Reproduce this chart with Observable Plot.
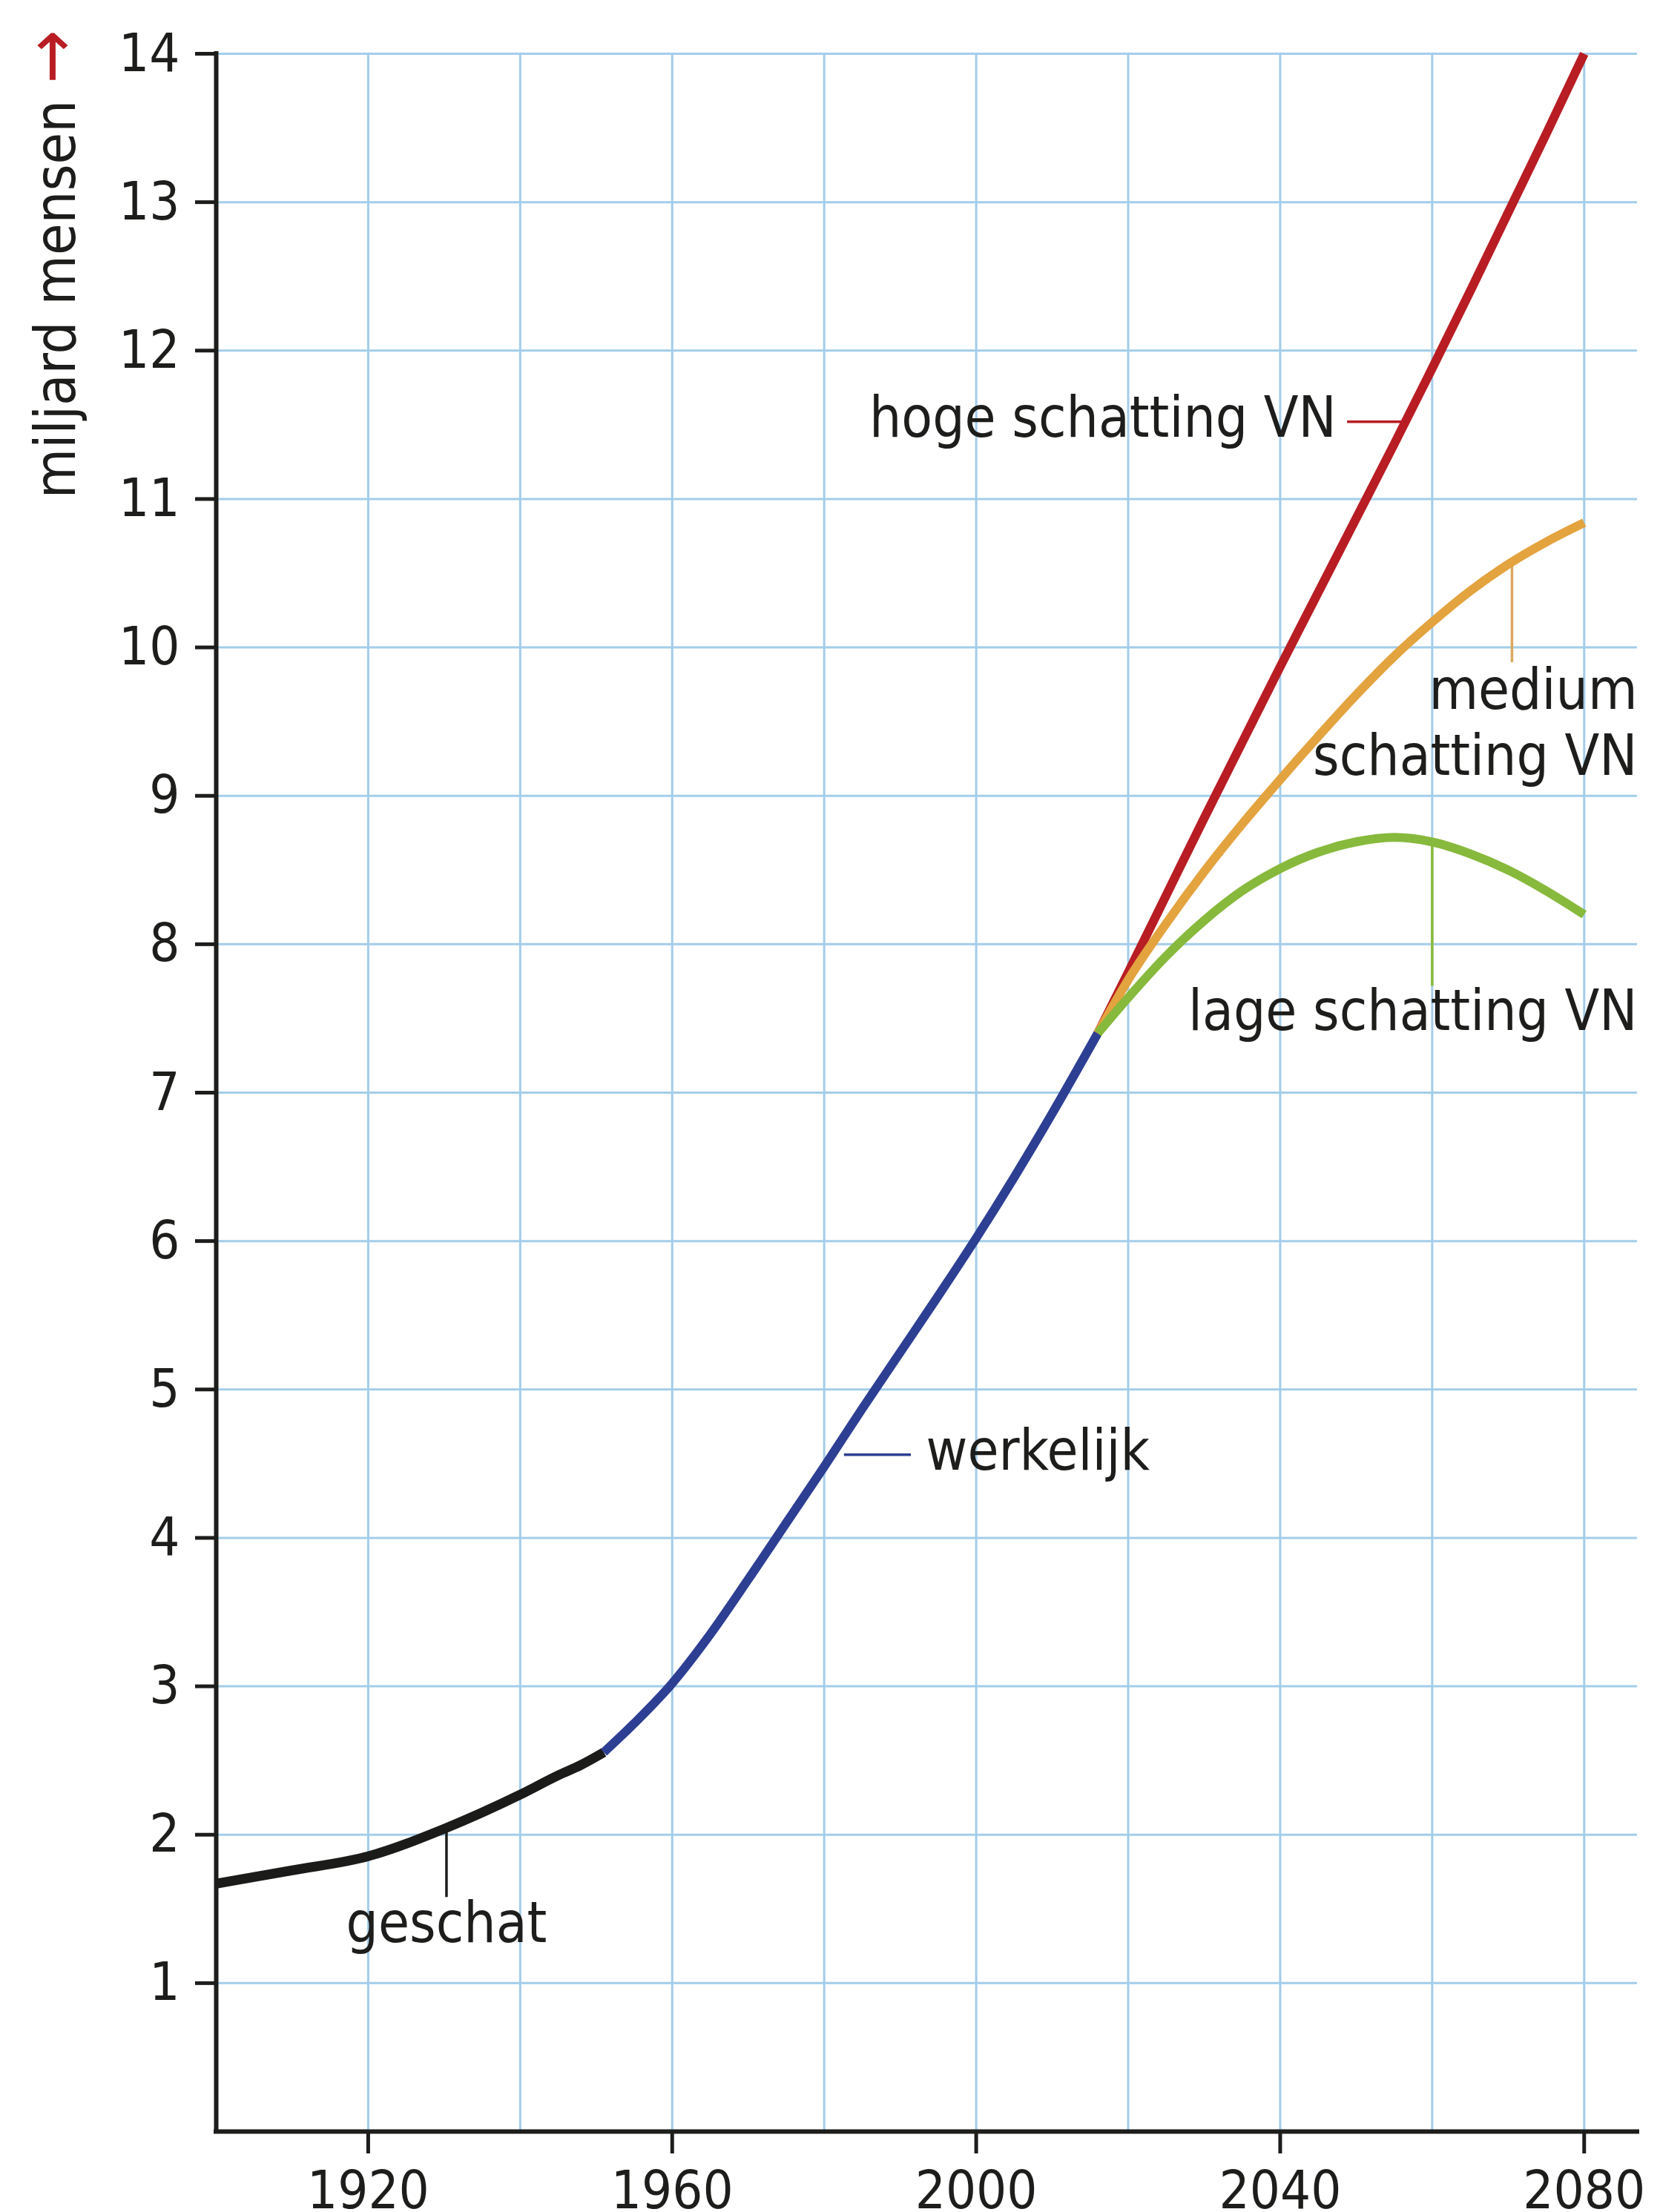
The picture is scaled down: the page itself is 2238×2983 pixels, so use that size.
<!DOCTYPE html>
<html>
<head>
<meta charset="utf-8">
<script src="https://cdn.jsdelivr.net/npm/d3@7"></script>
<script src="https://cdn.jsdelivr.net/npm/@observablehq/plot@0.6"></script>
<style>
  html, body { margin: 0; padding: 0; background: #ffffff; overflow: hidden; }
  #chart svg { display: block; }
</style>
</head>
<body>
<div id="chart"></div>
<script>
// ---- data ----
const geschatYears  = [1900, 1910, 1920, 1930, 1940, 1945, 1948, 1951];
const geschatValues = [1.67, 1.76, 1.855, 2.04, 2.27, 2.40, 2.47, 2.555];

const werkelijkYears  = [1951, 1955, 1960, 1965, 1970, 1975, 1980, 1985, 1990, 1995, 2000, 2005, 2010, 2016];
const werkelijkValues = [2.555, 2.75, 3.02, 3.35, 3.72, 4.1, 4.48, 4.87, 5.25, 5.63, 6.02, 6.43, 6.86, 7.4];

const projectionYears = [2016, 2020, 2025, 2030, 2035, 2040, 2045, 2050, 2055, 2060, 2065, 2070, 2075, 2080];
const hogeValues   = [7.4, 7.81, 8.33, 8.85, 9.36, 9.87, 10.37, 10.87, 11.37, 11.88, 12.4, 12.93, 13.46, 14.0];
const mediumValues = [7.4, 7.76, 8.14, 8.49, 8.81, 9.11, 9.4, 9.68, 9.94, 10.17, 10.38, 10.56, 10.71, 10.84];
const lageValues   = [7.4, 7.64, 7.92, 8.16, 8.36, 8.51, 8.62, 8.69, 8.72, 8.69, 8.61, 8.5, 8.36, 8.2];

const xTickYears = [1920, 1960, 2000, 2040, 2080];
const gridYears  = [1920, 1940, 1960, 1980, 2000, 2020, 2040, 2060, 2080];
const yTickValues = [1, 2, 3, 4, 5, 6, 7, 8, 9, 10, 11, 12, 13, 14];

const yTitle = "miljard mensen";
const yTitleArrow = "→";
const yTitleEnd = 14.16;

// annotations
const labelText   = ["geschat", "werkelijk", "hoge schatting VN", "medium\nschatting VN", "lage schatting VN"];
const labelX      = [1930.3, 1993.4, 2047.4, 2087, 2087];
const labelY      = [1.275, 4.46, 11.42, 9.14, 7.42];
const labelAnchor = ["middle", "start", "end", "end", "end"];

const leaderX1 = [1930.3, 1982.6, 2048.8, 2070.5, 2060.0];
const leaderY1 = [2.03, 4.56, 11.52, 10.57, 8.69];
const leaderX2 = [1930.3, 1991.4, 2056.4, 2070.5, 2060.0];
const leaderY2 = [1.58, 4.56, 11.52, 9.9, 7.72];

// ---- styles ----
const FONT = '"DejaVu Sans Condensed", "DejaVu Sans", sans-serif';
const INK = "#1d1d1b";
const GRID = "#a3cdea";
const C_BLACK = "#1b1b19", C_BLUE = "#2d3f93", C_RED = "#b81d23", C_ORANGE = "#e3a33f", C_GREEN = "#87b93c";
const leaderColors = [INK, C_BLUE, C_RED, "#d9a862", C_GREEN];

const toRows = (xs, ys) => xs.map((year, i) => ({year, value: ys[i]}));
const geschat = toRows(geschatYears, geschatValues);
const werkelijk = toRows(werkelijkYears, werkelijkValues);
const hoge = toRows(projectionYears, hogeValues);
const medium = toRows(projectionYears, mediumValues);
const lage = toRows(projectionYears, lageValues);

const labels = labelText.map((text, i) => ({text, x: labelX[i], y: labelY[i], anchor: labelAnchor[i]}));
const leaders = leaderX1.map((x1, i) => ({x1, y1: leaderY1[i], x2: leaderX2[i], y2: leaderY2[i], color: leaderColors[i]}));

const lineOpts = {x: "year", y: "value", strokeWidth: 12, strokeLinecap: "butt", strokeLinejoin: "round", curve: "monotone-x"};

const plot = Plot.plot({
  width: 2238,
  height: 2983,
  marginTop: 72,
  marginBottom: 109,
  marginLeft: 291,
  marginRight: 31,
  x: {domain: [1900, 2087]},
  y: {domain: [0, 14]},
  color: {type: "identity"},
  style: {fontFamily: FONT, fontSize: "72px", color: INK, background: "#ffffff", fontStretch: "condensed"},
  marks: [
    Plot.gridX(gridYears, {stroke: GRID, strokeOpacity: 1, strokeWidth: 3}),
    Plot.gridY(yTickValues, {stroke: GRID, strokeOpacity: 1, strokeWidth: 3}),
    Plot.ruleX([1900], {y1: 0, y2: 14, stroke: INK, strokeWidth: 6, strokeLinecap: "square"}),
    Plot.ruleY([0], {stroke: INK, strokeWidth: 6, strokeLinecap: "square"}),
    Plot.axisY(yTickValues, {tickSize: 28, tickPadding: 21, label: null, stroke: INK, strokeWidth: 5, fill: INK, fontSize: 72, tickFormat: d => String(d)}),
    Plot.axisX(xTickYears, {tickSize: 30, tickPadding: 22, label: null, stroke: INK, strokeWidth: 5, fill: INK, fontSize: 72, tickFormat: d => String(d)}),
    // leader lines
    Plot.link(leaders, {x1: "x1", y1: "y1", x2: "x2", y2: "y2", stroke: "color", strokeWidth: 3.5}),
    // series
    Plot.line(geschat, {...lineOpts, stroke: C_BLACK, strokeWidth: 13}),
    Plot.line(werkelijk, {...lineOpts, stroke: C_BLUE}),
    Plot.line(hoge, {...lineOpts, stroke: C_RED}),
    Plot.line(medium, {...lineOpts, stroke: C_ORANGE}),
    Plot.line(lage, {...lineOpts, stroke: C_GREEN}),
    // labels
    ...["start", "middle", "end"].map(a =>
      Plot.text(labels.filter(d => d.anchor === a), {
        x: "x", y: "y", text: "text", textAnchor: a, lineAnchor: "bottom",
        lineHeight: 1.17, fill: INK, fontSize: 76
      })
    ),
    // y axis title (rotated), arrow coloured afterwards
    Plot.text([yTitle + " " + yTitleArrow], {
      frameAnchor: "left", y: () => yTitleEnd, text: d => d, rotate: -90,
      textAnchor: "end", lineAnchor: "bottom", dx: -191, fill: INK, fontSize: 77
    })
  ]
});

// colour the arrow of the y-axis title red and draw it longer
d3.select(plot).selectAll("text").each(function () {
  if (this.textContent === yTitle + " " + yTitleArrow) {
    const t = d3.select(this);
    t.text(yTitle + " ");
    t.append("tspan").attr("fill", C_RED).attr("font-size", 96).attr("font-weight", 300).text(yTitleArrow);
  }
});

document.getElementById("chart").append(plot);
</script>
</body>
</html>
